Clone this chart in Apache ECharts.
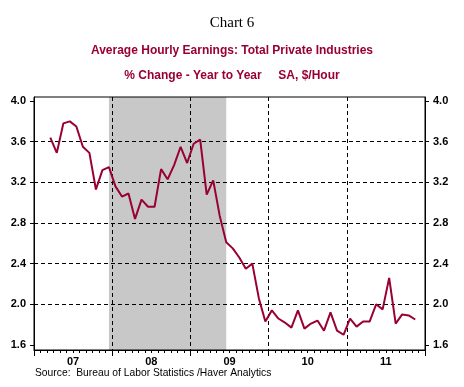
<!DOCTYPE html>
<html>
<head>
<meta charset="utf-8">
<script src="https://cdn.jsdelivr.net/npm/echarts@6/dist/echarts.min.js"></script>
<style>html,body{margin:0;padding:0;background:#fff;}#c{width:464px;height:387px;}</style>
</head>
<body>
<div id="c"></div>
<script>
// ---- data ----
const months = [
  '2007-01','2007-02','2007-03','2007-04','2007-05','2007-06','2007-07','2007-08','2007-09','2007-10','2007-11','2007-12',
  '2008-01','2008-02','2008-03','2008-04','2008-05','2008-06','2008-07','2008-08','2008-09','2008-10','2008-11','2008-12',
  '2009-01','2009-02','2009-03','2009-04','2009-05','2009-06','2009-07','2009-08','2009-09','2009-10','2009-11','2009-12',
  '2010-01','2010-02','2010-03','2010-04','2010-05','2010-06','2010-07','2010-08','2010-09','2010-10','2010-11','2010-12',
  '2011-01','2011-02','2011-03','2011-04','2011-05','2011-06','2011-07','2011-08','2011-09','2011-10','2011-11','2011-12'
];
const ahePctChange = [
  null, null, 3.64, 3.49, 3.78, 3.80, 3.75, 3.55, 3.49, 3.13, 3.32, 3.35,
  3.16, 3.06, 3.09, 2.84, 3.03, 2.96, 2.96, 3.33, 3.23, 3.37, 3.55, 3.39,
  3.58, 3.62, 3.08, 3.22, 2.87, 2.61, 2.55, 2.46, 2.35, 2.40, 2.06, 1.83,
  1.94, 1.86, 1.82, 1.77, 1.94, 1.76, 1.81, 1.84, 1.74, 1.92, 1.74, 1.70,
  1.86, 1.78, 1.83, 1.83, 2.00, 1.95, 2.26, 1.81, 1.90, 1.89, 1.85, null
];
const recession = ['2007-12', '2009-06'];
const yTicks = [1.6, 2.0, 2.4, 2.8, 3.2, 3.6, 4.0];
const yGridValues = [2.0, 2.4, 2.8, 3.2, 3.6];
const yearLabels = ['07', '08', '09', '10', '11'];
const yearLabelPositions = [6, 18, 30, 42, 54]; // mid-year month offsets
const yMin = 1.55, yMax = 4.04;

// ---- chart ----
const RED = '#990033';
const labelFont = {color: '#000', fontFamily: 'Liberation Sans, Arial, sans-serif', fontWeight: 'bold', fontSize: 11};
const chart = echarts.init(document.getElementById('c'), null, {renderer: 'canvas'});
chart.setOption({
  animation: false,
  backgroundColor: '#fff',
  title: [
    {text: 'Chart 6', left: 'center', top: 11, textStyle: {fontFamily: 'Liberation Serif, Times New Roman, serif', fontWeight: 'normal', fontSize: 15, color: '#000'}},
    {text: 'Average Hourly Earnings: Total Private Industries', left: 'center', top: 40, textStyle: {fontFamily: 'Liberation Sans, Arial, sans-serif', fontWeight: 'bold', fontSize: 12, color: RED}},
    {text: '% Change - Year to Year     SA, $/Hour', left: 'center', top: 65, textStyle: {fontFamily: 'Liberation Sans, Arial, sans-serif', fontWeight: 'bold', fontSize: 12, color: RED}}
  ],
  graphic: [{
    type: 'text', left: 35, top: 368,
    style: {text: 'Source:  Bureau of Labor Statistics /Haver Analytics', fill: '#000', font: '10.3px "Liberation Sans", Arial, sans-serif'}
  }],
  grid: {left: 34, right: 39, top: 97, bottom: 37, show: true, borderColor: '#000', borderWidth: 1, backgroundColor: 'transparent', z: 4},
  xAxis: [
    {type: 'category', data: months, boundaryGap: true, show: false},
    {type: 'value', min: 0, max: months.length, interval: 12, position: 'bottom', z: 3,
      axisLine: {show: true, lineStyle: {color: '#000', width: 1}},
      axisTick: {show: true, length: 6, lineStyle: {color: '#000'}},
      minorTick: {show: true, splitNumber: 12, length: 3, lineStyle: {color: '#000'}},
      axisLabel: Object.assign({margin: 6, customValues: yearLabelPositions,
        formatter: v => yearLabels[yearLabelPositions.indexOf(v)]}, labelFont),
      splitLine: {show: true, showMinLine: false, showMaxLine: false, lineStyle: {color: '#000', type: [4, 3], width: 1}}
    }
  ],
  yAxis: [
    {type: 'value', min: yMin, max: yMax, position: 'left', z: 3,
      axisLine: {show: true, lineStyle: {color: '#000'}},
      axisTick: {show: true, length: 4, customValues: yTicks, lineStyle: {color: '#000'}},
      axisLabel: Object.assign({margin: 8, customValues: yTicks, formatter: v => v.toFixed(1)}, labelFont),
      splitLine: {show: false}
    },
    {type: 'value', min: yMin, max: yMax, position: 'right', z: 3,
      axisLine: {show: true, lineStyle: {color: '#000'}},
      axisTick: {show: true, length: 4, customValues: yTicks, lineStyle: {color: '#000'}},
      axisLabel: Object.assign({margin: 8, customValues: yTicks, formatter: v => v.toFixed(1)}, labelFont),
      splitLine: {show: false}
    },
    {type: 'value', min: yMin, max: yMax, position: 'left', z: 3,
      axisLine: {show: false},
      axisTick: {show: false, customValues: yGridValues},
      axisLabel: {show: false},
      splitLine: {show: true, lineStyle: {color: '#000', type: [4, 3], width: 1}}
    }
  ],
  series: [
    {type: 'line', xAxisIndex: 0, yAxisIndex: 0, z: 1, silent: true, showSymbol: false,
      data: ahePctChange, lineStyle: {opacity: 0, width: 0},
      markArea: {silent: true, itemStyle: {color: '#C8C8C8'}, data: [[{xAxis: recession[0]}, {xAxis: recession[1]}]]}
    },
    {type: 'line', name: 'AHE', xAxisIndex: 0, yAxisIndex: 0, z: 6, showSymbol: false, symbol: 'none',
      data: ahePctChange, connectNulls: false,
      lineStyle: {color: RED, width: 2}
    }
  ]
});
</script>
</body>
</html>
